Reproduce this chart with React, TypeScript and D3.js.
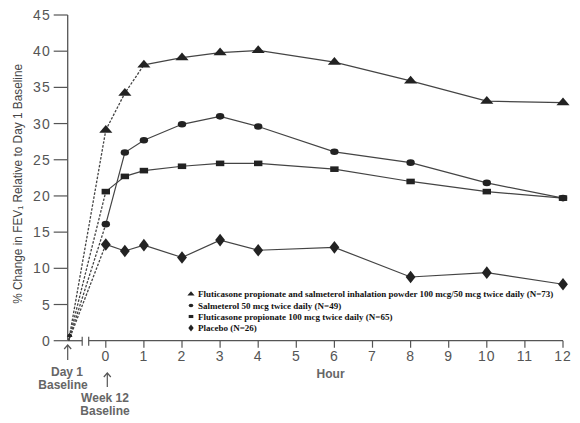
import { useEffect, useRef } from "react";
import { scaleLinear, select, line, symbol, symbolTriangle, symbolDiamond } from "d3";

const WIDTH = 580;
const HEIGHT = 423;

const HOURS = [0, 0.5, 1, 2, 3, 4, 6, 8, 10, 12];
const X_TICKS = [0, 1, 2, 3, 4, 5, 6, 7, 8, 9, 10, 11, 12];
const Y_TICKS = [0, 5, 10, 15, 20, 25, 30, 35, 40, 45];

const COMBO = [29.1, 34.2, 38.1, 39.1, 39.8, 40.1, 38.5, 35.9, 33.1, 32.9];
const SALMETEROL = [16.1, 26.0, 27.7, 29.9, 31.0, 29.6, 26.1, 24.6, 21.8, 19.7];
const FLUTICASONE = [20.6, 22.7, 23.5, 24.1, 24.5, 24.5, 23.7, 22.0, 20.6, 19.7];
const PLACEBO = [13.3, 12.4, 13.2, 11.5, 13.9, 12.5, 12.9, 8.8, 9.4, 7.8];

const SERIES = [
  { key: "triangle", label: "Fluticasone propionate and salmeterol inhalation powder 100 mcg/50 mcg twice daily (N=73)", values: COMBO },
  { key: "circle", label: "Salmeterol 50 mcg twice daily (N=49)", values: SALMETEROL },
  { key: "square", label: "Fluticasone propionate 100 mcg twice daily (N=65)", values: FLUTICASONE },
  { key: "diamond", label: "Placebo (N=26)", values: PLACEBO },
];

const INK = "#222222";
const LINE = "#444444";
const AXIS = "#555555";
const SANS = "'Liberation Sans', Arial, sans-serif";
const SERIF = "'Liberation Serif', 'Times New Roman', serif";

function drawMarker(g: any, key: string, x: number, y: number, scale = 1) {
  if (key === "circle") {
    g.append("ellipse").attr("cx", x).attr("cy", y).attr("rx", 4.2 * scale).attr("ry", 3.3 * scale).attr("fill", INK);
  } else if (key === "square") {
    g.append("rect")
      .attr("x", x - 4.2 * scale).attr("y", y - 2.8 * scale)
      .attr("width", 8.4 * scale).attr("height", 5.6 * scale).attr("fill", INK);
  } else if (key === "triangle") {
    g.append("path")
      .attr("d", symbol().type(symbolTriangle).size(48 * scale * scale)())
      .attr("transform", `translate(${x},${y}) scale(1.25,0.85)`)
      .attr("fill", INK);
  } else {
    g.append("path")
      .attr("d", symbol().type(symbolDiamond).size(46 * scale * scale)())
      .attr("transform", `translate(${x},${y}) scale(1.35,1)`)
      .attr("fill", INK);
  }
}

export default function App() {
  const svgRef = useRef<SVGSVGElement>(null);

  useEffect(() => {
    const svg = select(svgRef.current);
    svg.selectAll("*").remove();

    const x = scaleLinear().domain([-1, 12]).range([67.7, 563]);
    const y = scaleLinear().domain([0, 45]).range([340.7, 15]);

    svg.append("rect").attr("width", WIDTH).attr("height", HEIGHT).attr("fill", "#ffffff");

    const g = svg.append("g");

    // Y axis
    g.append("line")
      .attr("x1", x(-1)).attr("x2", x(-1))
      .attr("y1", y(45)).attr("y2", y(0))
      .attr("stroke", AXIS).attr("stroke-width", 1.3);
    Y_TICKS.forEach((t) => {
      g.append("line")
        .attr("x1", x(-1) - 14).attr("x2", x(-1))
        .attr("y1", y(t)).attr("y2", y(t))
        .attr("stroke", AXIS).attr("stroke-width", 1.2);
      g.append("text")
        .attr("x", x(-1) - 17)
        .attr("y", y(t))
        .attr("dy", "0.36em")
        .attr("text-anchor", "end")
        .attr("font-family", SANS)
        .attr("font-size", "14px")
        .attr("letter-spacing", "1px")
        .attr("fill", AXIS)
        .text(t);
    });

    // X axis with break
    const breakA = x(-1) + 14.5;
    const breakB = x(-1) + 21;
    g.append("line")
      .attr("x1", x(-1)).attr("x2", breakA)
      .attr("y1", y(0)).attr("y2", y(0))
      .attr("stroke", AXIS).attr("stroke-width", 1.3);
    g.append("line")
      .attr("x1", breakB).attr("x2", x(12))
      .attr("y1", y(0)).attr("y2", y(0))
      .attr("stroke", AXIS).attr("stroke-width", 1.3);
    [breakA, breakB].forEach((bx) => {
      g.append("line")
        .attr("x1", bx).attr("x2", bx)
        .attr("y1", y(0) - 4).attr("y2", y(0) + 5)
        .attr("stroke", AXIS).attr("stroke-width", 1.2);
    });
    X_TICKS.forEach((t) => {
      g.append("line")
        .attr("x1", x(t)).attr("x2", x(t))
        .attr("y1", y(0)).attr("y2", y(0) + 7)
        .attr("stroke", AXIS).attr("stroke-width", 1.2);
      g.append("text")
        .attr("x", x(t))
        .attr("y", y(0) + 20)
        .attr("text-anchor", "middle")
        .attr("font-family", SANS)
        .attr("font-size", "14px")
        .attr("letter-spacing", "1px")
        .attr("fill", AXIS)
        .text(t);
    });

    g.append("text")
      .attr("x", x(5.9))
      .attr("y", 378)
      .attr("text-anchor", "middle")
      .attr("font-family", SANS)
      .attr("font-size", "12px")
      .attr("font-weight", 700)
      .attr("fill", "#666666")
      .text("Hour");

    // Baseline arrows and labels
    const arrow = (ax: number, y1: number, y2: number) => {
      g.append("line").attr("x1", ax).attr("x2", ax).attr("y1", y1).attr("y2", y2)
        .attr("stroke", AXIS).attr("stroke-width", 1.2);
      g.append("path")
        .attr("d", `M${ax - 3.5},${y1 + 4} L${ax},${y1} L${ax + 3.5},${y1 + 4}`)
        .attr("fill", "none").attr("stroke", AXIS).attr("stroke-width", 1.2);
    };
    arrow(x(-1), 345, 360);
    arrow(x(0) + 1.5, 373, 387);
    const baseText = (tx: number, ty: number, s: string) =>
      g.append("text")
        .attr("x", tx).attr("y", ty)
        .attr("text-anchor", "middle")
        .attr("font-family", SANS)
        .attr("font-size", "12px")
        .attr("font-weight", 700)
        .attr("fill", "#666666")
        .text(s);
    baseText(67, 376, "Day 1");
    baseText(63, 389, "Baseline");
    baseText(105, 402, "Week 12");
    baseText(105, 415, "Baseline");

    // Y axis title
    g.append("text")
      .attr("transform", `translate(22,${y(22.5) + 6}) rotate(-90)`)
      .attr("text-anchor", "middle")
      .attr("font-family", "'Liberation Sans Narrow', 'Arial Narrow', " + SANS)
      .attr("font-size", "12px")
      .attr("fill", "#444444")
      .attr("textLength", 240)
      .attr("lengthAdjust", "spacingAndGlyphs")
      .text("% Change in FEV\u2081 Relative to Day 1 Baseline");

    // Dashed lead-in from Day 1 baseline to hour 0
    SERIES.forEach((s) => {
      g.append("line")
        .attr("x1", x(-1) + 1).attr("y1", y(0))
        .attr("x2", x(0)).attr("y2", y(s.values[0]))
        .attr("stroke", LINE)
        .attr("stroke-width", 1.3)
        .attr("stroke-dasharray", "2.5,1.5");
    });

    // Series lines (the combination's first hour looks dotted in the source)
    const path = line<number>()
      .x((_, i) => x(HOURS[i]))
      .y((d) => y(d));
    SERIES.forEach((s) => {
      if (s.key === "triangle") {
        g.append("path")
          .attr("d", path(s.values.slice(0, 3)))
          .attr("fill", "none")
          .attr("stroke", LINE)
          .attr("stroke-width", 1.3)
          .attr("stroke-dasharray", "2.5,1.5");
        g.append("path")
          .attr("d", line<number>().x((_, i) => x(HOURS[i + 2])).y((d) => y(d))(s.values.slice(2)))
          .attr("fill", "none")
          .attr("stroke", LINE)
          .attr("stroke-width", 1.2);
        return;
      }
      g.append("path")
        .attr("d", path(s.values))
        .attr("fill", "none")
        .attr("stroke", LINE)
        .attr("stroke-width", 1.2);
    });

    // Markers
    SERIES.forEach((s) => {
      drawMarker(g, s.key, x(-1) + 2, y(0) - 5, 0.45);
      s.values.forEach((v, i) => drawMarker(g, s.key, x(HOURS[i]), y(v)));
    });

    // Legend
    const legendY = [297, 308.5, 319.5, 331];
    SERIES.forEach((s, i) => {
      drawMarker(g, s.key, 191, legendY[i] - 3, 0.55);
      g.append("text")
        .attr("x", 198)
        .attr("y", legendY[i])
        .attr("font-family", SERIF)
        .attr("font-size", "9px")
        .attr("font-weight", 700)
        .attr("fill", "#111111")
        .text(s.label);
    });
  }, []);

  return (
    <svg
      ref={svgRef}
      width={WIDTH}
      height={HEIGHT}
      style={{ position: "absolute", left: 0, top: 0 }}
    />
  );
}
